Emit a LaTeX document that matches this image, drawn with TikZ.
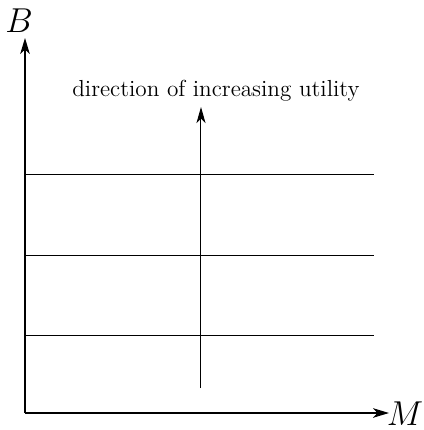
\documentclass[tikz,border=0pt]{standalone}
\usetikzlibrary{arrows.meta}
\begin{document}
\begin{tikzpicture}[x=0.5pt,y=-0.5pt,
  axis/.style={line width=0.55pt,-{Stealth[length=8pt,width=4.8pt,inset=2.2pt]}},
  curve/.style={line width=0.45pt},
  dirarrow/.style={line width=0.5pt,-{Stealth[length=8pt,width=4.5pt,inset=2.2pt]}}]
\useasboundingbox (0,0) rectangle (424,430);
\coordinate (O) at (25,413);
\coordinate (Btop) at (25,38);
\coordinate (Mend) at (389,413);
\node[inner sep=0pt] (B) at (19,21) {\LARGE $B$};
\node[inner sep=0pt] (M) at (405,414) {\LARGE $M$};
\draw[axis] (O) -- (Btop);
\draw[axis] (O) -- (Mend);
\foreach \y/\n in {174/a,255/b,335/c}{
  \coordinate (l\n) at (25,\y);
  \coordinate (r\n) at (374,\y);
  \draw[curve] (l\n) -- (r\n);
}
\coordinate (ds) at (201,388);
\coordinate (de) at (201,107);
\draw[dirarrow] (ds) -- (de);
\node (lab) at (216,91) {\fontsize{11.6}{14}\selectfont direction of increasing utility};
\end{tikzpicture}
\end{document}
